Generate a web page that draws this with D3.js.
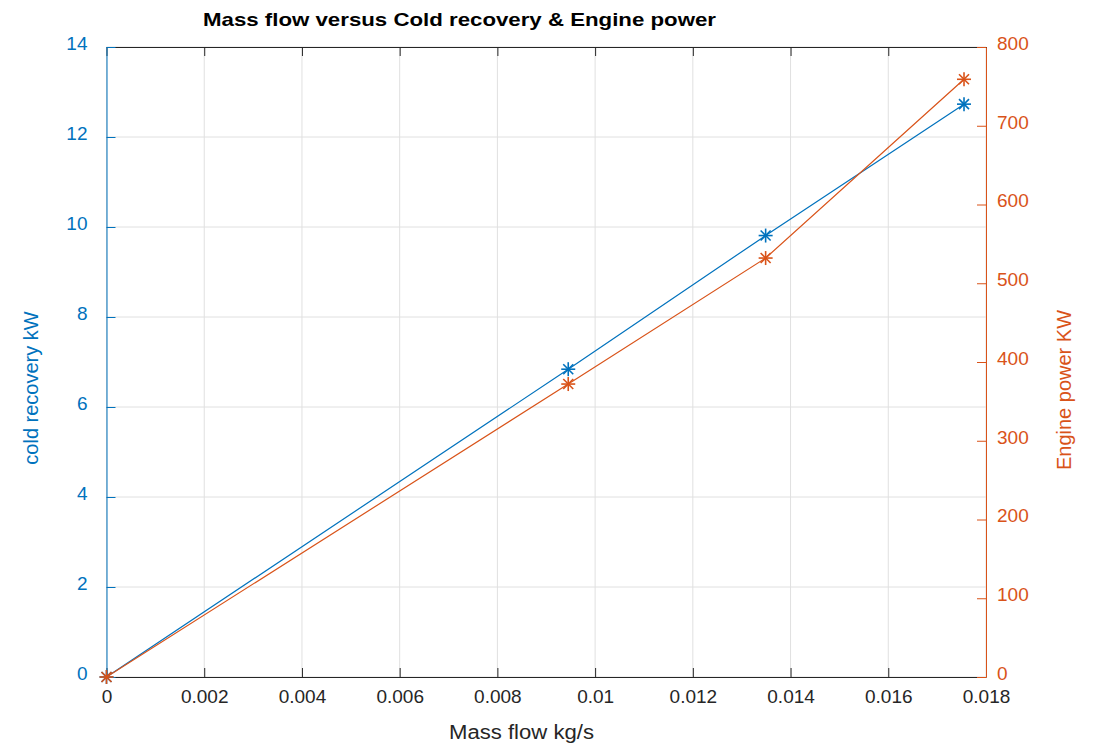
<!DOCTYPE html>
<html><head><meta charset="utf-8">
<script src="https://cdn.jsdelivr.net/npm/d3@7"></script>
<style>body{margin:0;background:#fff;} text{font-family:"Liberation Sans",Arial,sans-serif;}</style>
</head><body>
<svg id="c" width="1104" height="749"></svg>
<script>
const massFlow = [0, 0.00945, 0.01349, 0.01755];
const coldRecovery = [0, 6.84, 9.81, 12.73];
const enginePower = [0, 372, 532, 759];
const xTicks = [0, 0.002, 0.004, 0.006, 0.008, 0.01, 0.012, 0.014, 0.016, 0.018];
const yLeftTicks = [0, 2, 4, 6, 8, 10, 12, 14];
const yRightTicks = [0, 100, 200, 300, 400, 500, 600, 700, 800];

const blue = "#0072BD", orange = "#D95319";
const L = 106.5, R = 986, T = 47, B = 677;
const svg = d3.select("#c");
const x = d3.scaleLinear().domain([0, 0.018]).range([L, R]);
const yL = d3.scaleLinear().domain([0, 14]).range([B, T]);
const yR = d3.scaleLinear().domain([0, 800]).range([B, T]);
const FF = "Liberation Sans, Arial, sans-serif";

// grid
svg.append("g").selectAll("line").data(xTicks).join("line")
  .attr("x1", d => x(d)).attr("x2", d => x(d)).attr("y1", T).attr("y2", B)
  .attr("stroke", "#e0e0e0").attr("stroke-width", 1);
svg.append("g").selectAll("line").data(yLeftTicks).join("line")
  .attr("x1", L).attr("x2", R).attr("y1", d => yL(d)).attr("y2", d => yL(d))
  .attr("stroke", "#e0e0e0").attr("stroke-width", 1);

// axes (inside ticks)
const tick = 9;
const fs = "19px";
const gx = svg.append("g").attr("transform", `translate(0,${B})`)
  .call(d3.axisBottom(x).tickValues(xTicks).tickSizeInner(-tick).tickSizeOuter(0).tickPadding(13).tickFormat(d => d3.format("")(+d.toFixed(3))));
gx.select(".domain").attr("stroke", "#262626");
gx.selectAll(".tick line").attr("stroke", "#262626");
gx.selectAll("text").attr("fill", "#262626").style("font-size", fs).style("font-family", FF);

const gt = svg.append("g").attr("transform", `translate(0,${T})`)
  .call(d3.axisTop(x).tickValues(xTicks).tickSizeInner(-tick).tickSizeOuter(0).tickFormat(""));
gt.select(".domain").attr("stroke", "#262626");
gt.selectAll(".tick line").attr("stroke", "#262626");

const gl = svg.append("g").attr("transform", `translate(${L},0)`)
  .call(d3.axisLeft(yL).tickValues(yLeftTicks).tickSizeInner(-tick).tickSizeOuter(0).tickPadding(19));
gl.select(".domain").attr("stroke", blue);
gl.selectAll(".tick line").attr("stroke", blue);
gl.selectAll("text").attr("fill", blue).attr("dy", "0.12em").style("font-size", fs).style("font-family", FF);

const gr = svg.append("g").attr("transform", `translate(${R},0)`)
  .call(d3.axisRight(yR).tickValues(yRightTicks).tickSizeInner(-tick).tickSizeOuter(0).tickPadding(11));
gr.select(".domain").attr("stroke", orange);
gr.selectAll(".tick line").attr("stroke", orange);
gr.selectAll("text").attr("fill", orange).attr("dy", "0.12em").style("font-size", fs).style("font-family", FF);

// series
function series(vals, y, color) {
  const pts = massFlow.map((m, i) => [x(m), y(vals[i])]);
  svg.append("path").attr("d", d3.line()(pts)).attr("fill", "none").attr("stroke", color).attr("stroke-width", 1.2);
  const s = 7, d = 5;
  const g = svg.append("g");
  pts.forEach(([px, py]) => {
    const segs = [[-s,0,s,0],[0,-s,0,s],[-d,-d,d,d],[-d,d,d,-d]];
    segs.forEach(([a,b,c,e]) => g.append("line")
      .attr("x1", px+a).attr("y1", py+b).attr("x2", px+c).attr("y2", py+e)
      .attr("stroke", color).attr("stroke-width", 1.6));
  });
}
series(coldRecovery, yL, blue);
series(enginePower, yR, orange);

// labels
svg.append("text").attr("x", 459.5).attr("y", 26).attr("text-anchor", "middle")
  .attr("textLength", 513).attr("lengthAdjust", "spacingAndGlyphs")
  .style("font-size", "19px").style("font-weight", "bold").attr("fill", "#000")
  .text("Mass flow versus Cold recovery & Engine power");
svg.append("text").attr("x", 521.5).attr("y", 739).attr("text-anchor", "middle")
  .attr("textLength", 145).attr("lengthAdjust", "spacingAndGlyphs")
  .style("font-size", "20px").attr("fill", "#262626").text("Mass flow kg/s");
svg.append("text").attr("transform", "translate(38,388) rotate(-90)").attr("text-anchor", "middle")
  .style("font-size", "20px").attr("fill", blue).text("cold recovery kW");
svg.append("text").attr("transform", "translate(1071,390) rotate(-90)").attr("text-anchor", "middle")
  .style("font-size", "20px").attr("fill", orange).text("Engine power KW");
</script>
</body></html>
